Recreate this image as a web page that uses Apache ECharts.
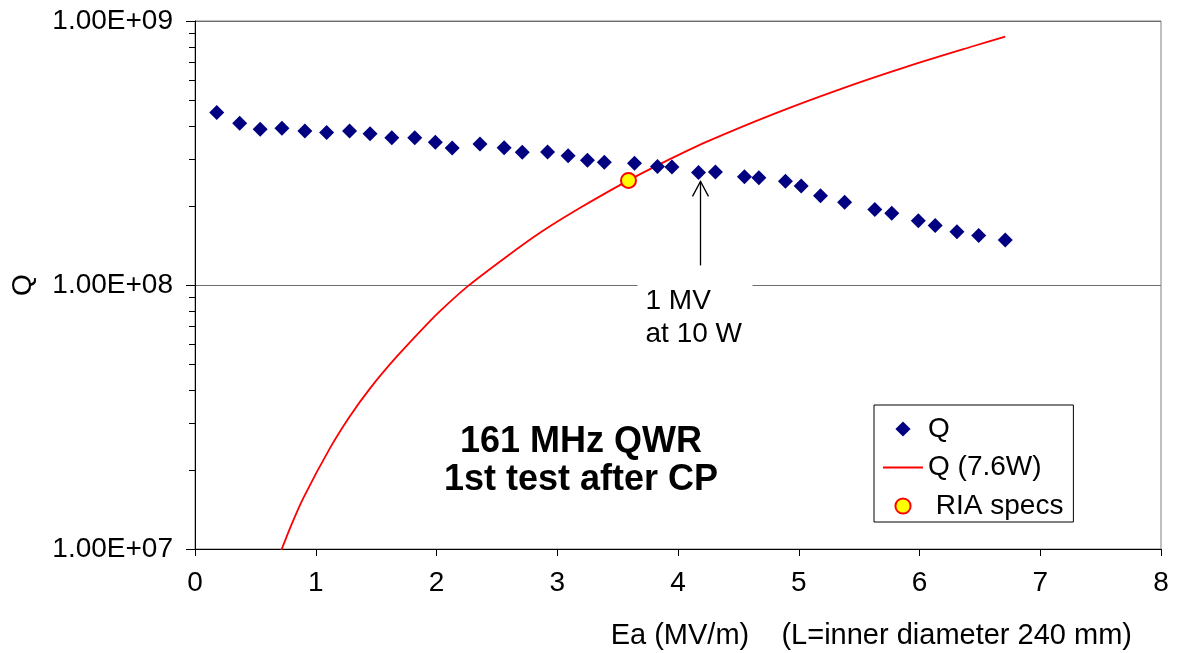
<!DOCTYPE html>
<html><head><meta charset="utf-8">
<script src="https://cdn.jsdelivr.net/npm/echarts@6/dist/echarts.min.js"></script>
<style>html,body{margin:0;padding:0;background:#fff}#c{width:1177px;height:653px}</style>
</head><body><div id="c"></div>
<script>
// Measured Q vs accelerating field
const ea = [0.18,0.37,0.54,0.72,0.91,1.09,1.28,1.45,1.63,1.82,1.99,2.13,2.36,2.56,2.71,2.92,3.09,3.25,3.39,3.64,3.83,3.95,4.17,4.31,4.55,4.67,4.89,5.02,5.18,5.38,5.63,5.77,5.99,6.13,6.31,6.49,6.71];
const qMeasured = [4.50e8,4.10e8,3.89e8,3.92e8,3.83e8,3.78e8,3.83e8,3.74e8,3.61e8,3.61e8,3.47e8,3.30e8,3.42e8,3.31e8,3.18e8,3.19e8,3.09e8,2.97e8,2.92e8,2.89e8,2.81e8,2.80e8,2.67e8,2.68e8,2.57e8,2.55e8,2.47e8,2.37e8,2.18e8,2.06e8,1.93e8,1.87e8,1.75e8,1.68e8,1.59e8,1.54e8,1.48e8];
// Q at constant 7.6 W
const eaFit = [0.70,0.80,0.90,1.12,1.28,1.45,1.67,1.92,2.04,2.26,2.58,2.86,3.19,3.59,3.85,4.24,4.79,5.34,5.89,6.45,6.71];
const qFit = [0.95e7,1.24e7,1.57e7,2.42e7,3.17e7,4.06e7,5.35e7,7.10e7,8.05e7,9.90e7,1.28e8,1.58e8,1.96e8,2.49e8,2.87e8,3.49e8,4.44e8,5.51e8,6.70e8,8.04e8,8.72e8];
// RIA specification point
const riaEa = [3.59];
const riaQ = [2.49e8];
// Axis decoration
const xTicks = [0,1,2,3,4,5,6,7,8];
const yMinorTicks = [2e7,3e7,4e7,5e7,6e7,7e7,8e7,9e7,2e8,3e8,4e8,5e8,6e8,7e8,8e8,9e8];
const annotationIndex = 22;
const annotationLines = ['1 MV','at 10 W'];

const FONT = "'Liberation Sans', Arial, Helvetica, sans-serif";
const chart = echarts.init(document.getElementById('c'), null, {renderer:'canvas'});

function fmtE(v){
  const e = Math.round(Math.log10(v));
  const m = v / Math.pow(10, e);
  return m.toFixed(2) + 'E+' + String(e).padStart(2,'0');
}

chart.setOption({
  animation:false,
  backgroundColor:'#fff',
  textStyle:{fontFamily:FONT},
  title:{
    text:'161 MHz QWR\n1st test after CP',
    left:576, top:418, textAlign:'center',
    textStyle:{fontFamily:FONT, fontSize:36, fontWeight:'bold', color:'#000', lineHeight:38}
  },
  grid:{left:195, right:16, top:21, bottom:104, show:true, borderColor:'#808080', borderWidth:1, backgroundColor:'transparent'},
  legend:{
    orient:'vertical', left:874, top:405,
    padding:[9,10,1,8], itemGap:8.5,
    itemWidth:40, itemHeight:19,
    borderColor:'#000', borderWidth:1, backgroundColor:'#fff',
    textStyle:{fontFamily:FONT, fontSize:28, color:'#000', lineHeight:30},
    data:['Q', {name:'Q (7.6W)', itemStyle:{opacity:0}}, ' RIA specs'],
    selectedMode:false, z:10
  },
  xAxis:{
    type:'value', min:0, max:8, interval:1,
    axisLine:{show:true, onZero:false, lineStyle:{color:'#000', width:1}},
    axisTick:{show:true, length:7, lineStyle:{color:'#000'}},
    axisLabel:{fontFamily:FONT, fontSize:28, color:'#000', margin:20, formatter:v=>String(v)},
    splitLine:{show:false},
    name:'Ea (MV/m)    (L=inner diameter 240 mm)',
    nameLocation:'end', nameGap:-29,
    nameTextStyle:{fontFamily:FONT, fontSize:29, color:'#000', align:'right', verticalAlign:'top', padding:[72,0,0,0]}
  },
  yAxis:{
    type:'log', logBase:10, min:1e7, max:1e9,
    axisLine:{show:true, lineStyle:{color:'#000', width:1}},
    axisTick:{show:true, length:9, lineStyle:{color:'#000'}},
    axisLabel:{fontFamily:FONT, fontSize:28, color:'#000', margin:22, formatter:fmtE},
    splitLine:{show:true, lineStyle:{color:'#6e6e6e', width:1}},
    minorTick:{show:false},
    name:'Q', nameLocation:'middle', nameGap:158,
    nameTextStyle:{fontFamily:FONT, fontSize:28, color:'#000'}
  },
  series:[
    {
      name:'Q (7.6W)', type:'line', smooth:0.3, symbol:'none',
      data: eaFit.map((x,i)=>[x,qFit[i]]),
      lineStyle:{color:'#ff0000', width:1.8},
      itemStyle:{color:'#ff0000'},
      clip:true, z:2
    },
    {
      name:'Q', type:'line', symbol:'diamond', symbolSize:15, showSymbol:true, showAllSymbol:true,
      data: ea.map((x,i)=>[x,qMeasured[i]]),
      lineStyle:{opacity:0, width:0},
      itemStyle:{color:'#000080'},
      z:3
    },
    {
      name:' RIA specs', type:'line', symbol:'circle', symbolSize:15, showSymbol:true,
      data: riaEa.map((x,i)=>[x,riaQ[i]]),
      lineStyle:{opacity:0, width:0},
      itemStyle:{color:'#ffff00', borderColor:'#ff0000', borderWidth:2},
      z:4
    },
    {
      type:'custom', coordinateSystem:'cartesian2d', silent:true, z:5,
      data: yMinorTicks.map(v=>[0,v]),
      renderItem:(params, api)=>{
        const p = api.coord([api.value(0), api.value(1)]);
        const y = Math.round(p[1]) + 0.5;
        return {type:'line', shape:{x1:p[0]-6, y1:y, x2:p[0], y2:y}, style:{stroke:'#000', lineWidth:1}};
      }
    },
    {
      type:'custom', coordinateSystem:'cartesian2d', silent:true, z:6,
      data:[[ea[annotationIndex], qMeasured[annotationIndex]]],
      renderItem:(params, api)=>{
        const p = api.coord([api.value(0), api.value(1)]);
        const x = Math.round(p[0]) + 1.5, y = p[1];
        const font = "28px " + FONT;
        return {type:'group', children:[
          {type:'rect', shape:{x:x-63, y:y+98, width:115, height:82}, style:{fill:'#fff'}},
          {type:'line', shape:{x1:x, y1:y+9, x2:x, y2:y+93}, style:{stroke:'#000', lineWidth:1.3}},
          {type:'polyline', shape:{points:[[x-8,y+24],[x,y+9],[x+8,y+24]]}, style:{stroke:'#000', fill:null, lineWidth:1.3}},
          {type:'text', style:{text:annotationLines[0], x:x-55, y:y+129, font:font, fill:'#000', verticalAlign:'middle', align:'left'}},
          {type:'text', style:{text:annotationLines[1], x:x-55, y:y+162, font:font, fill:'#000', verticalAlign:'middle', align:'left'}}
        ]};
      }
    }
  ]
});
</script></body></html>
